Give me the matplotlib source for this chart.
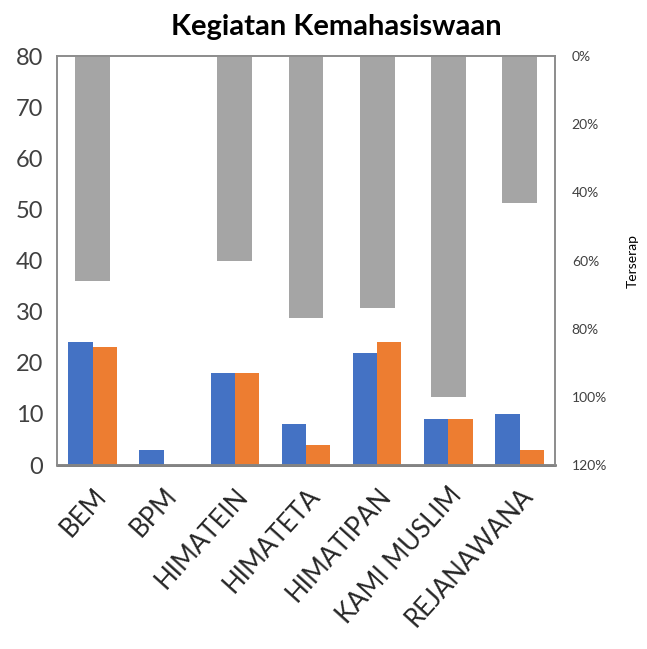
import matplotlib
matplotlib.use("Agg")
import matplotlib.pyplot as plt
import numpy as np
from matplotlib.ticker import FuncFormatter

categories = ["BEM", "BPM", "HIMATEIN", "HIMATETA", "HIMATIPAN", "KAMI MUSLIM", "REJANAWANA"]
series_blue = [24, 3, 18, 8, 22, 9, 10]
series_orange = [23, 0, 18, 4, 24, 9, 3]
terserap = [66, 0, 60, 77, 74, 100, 43]

plt.rcParams['font.family'] = ['Lato', 'DejaVu Sans']

fig = plt.figure(figsize=(6.47, 6.49), dpi=100)
ax = fig.add_axes([0.088, 0.2835, 0.77, 0.63])
x = np.arange(len(categories))
w = 0.34
ax.bar(x - w / 2, series_blue, w, color="#4472C4")
ax.bar(x + w / 2, series_orange, w, color="#ED7D31")
ax.set_xlim(-0.5, len(categories) - 0.5)
ax.set_ylim(0, 80)
ax.set_yticks(range(0, 81, 10))
ax.tick_params(axis='y', length=0, labelsize=17, colors='#404040', pad=10)
ax.set_xticks(x)
ax.set_xticklabels(categories, rotation=48, ha='right', rotation_mode='anchor', fontsize=18.5)
ax.tick_params(axis='x', length=0, pad=13, colors='#262626')

ax2 = ax.twinx()
ax2.bar(x, terserap, 0.49, color="#A5A5A5")
ax2.set_ylim(120, 0)
ax2.set_yticks(range(0, 121, 20))
ax2.yaxis.set_major_formatter(FuncFormatter(lambda v, p: "%d%%" % v))
ax2.tick_params(axis='y', length=0, labelsize=10, colors='#404040', pad=12)
ax2.set_ylabel("Terserap", fontsize=10, labelpad=14)

for a in (ax, ax2):
    for s in a.spines.values():
        s.set_color("#8c8c8c")
        s.set_linewidth(1.2)
ax.spines['bottom'].set_color("#595959")
ax.spines['bottom'].set_linewidth(1.8)

fig.suptitle("Kegiatan Kemahasiswaan", fontsize=21, fontweight='bold', x=0.52, y=0.978)

plt.savefig("out.png", dpi=100)
